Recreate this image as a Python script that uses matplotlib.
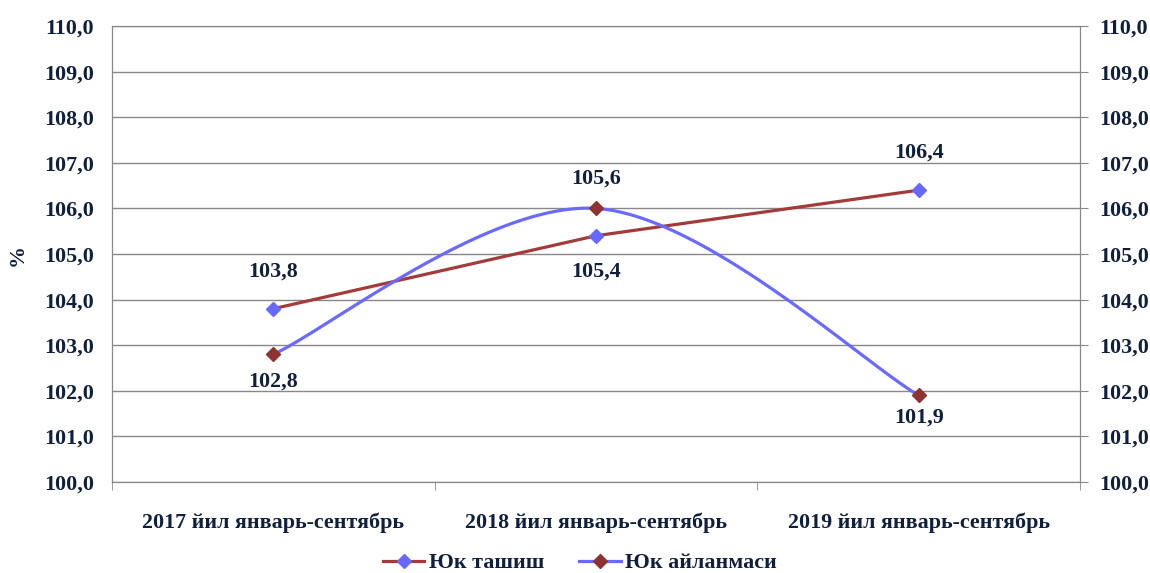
import matplotlib.pyplot as plt
import numpy as np
from matplotlib.lines import Line2D

categories = ["2017 йил январь-сентябрь", "2018 йил январь-сентябрь", "2019 йил январь-сентябрь"]
tashish = [103.8, 105.4, 106.4]
aylanma = [102.8, 106.0, 101.9]
tashish_labels = ["103,8", "105,4", "106,4"]
aylanma_labels = ["102,8", "105,6", "101,9"]
series_names = ["Юк ташиш", "Юк айланмаси"]
yticks = [100, 101, 102, 103, 104, 105, 106, 107, 108, 109, 110]

txt = "#10203c"
red_line = "#a33b3b"
purple = "#6868ff"
blue_line = "#6a6aff"
dark_red = "#8e3232"
grey = "#888888"

plt.rcParams['font.family'] = ['Liberation Serif', 'DejaVu Serif']
plt.rcParams['font.weight'] = 'bold'
fs = 15.8


def smooth(xs, ys, n=60):
    # catmull-rom like Excel's smoothed line
    px = [xs[0]] + list(xs) + [xs[-1]]
    py = [ys[0]] + list(ys) + [ys[-1]]
    outx, outy = [], []
    t = np.linspace(0, 1, n)
    for i in range(1, len(px) - 2):
        p0, p1, p2, p3 = np.array([px[i-1], py[i-1]]), np.array([px[i], py[i]]), \
            np.array([px[i+1], py[i+1]]), np.array([px[i+2], py[i+2]])
        c1 = p1 + (p2 - p0) / 6
        c2 = p2 - (p3 - p1) / 6
        for tt in t:
            b = (1-tt)**3*p1 + 3*(1-tt)**2*tt*c1 + 3*(1-tt)*tt**2*c2 + tt**3*p2
            outx.append(b[0]); outy.append(b[1])
    return outx, outy


fig = plt.figure(figsize=(11.5, 5.73), dpi=100)
ax = fig.add_axes([112/1150, 1-482/573, (1080-112)/1150, (482-26)/573])
x = np.arange(len(categories))

ax.plot(x, tashish, color=red_line, lw=2.3, zorder=3)
ax.plot(x, tashish, ls='none', marker='D', ms=7, color=purple, zorder=4)
sx, sy = smooth(x, aylanma)
ax.plot(sx, sy, color=blue_line, lw=2.3, zorder=3)
ax.plot(x, aylanma, ls='none', marker='D', ms=7, color=dark_red, zorder=4)

tashish_off = [-37, 36, -38]
aylanma_off = [27, -30, 22]
for i in range(len(x)):
    ax.annotate(tashish_labels[i], (x[i], tashish[i]), xytext=(0, -tashish_off[i]),
                textcoords='offset pixels', ha='center', va='center', fontsize=fs,
                color=txt, fontweight='bold')
    ax.annotate(aylanma_labels[i], (x[i], aylanma[i]), xytext=(0, -aylanma_off[i]),
                textcoords='offset pixels', ha='center', va='center', fontsize=fs,
                color=txt, fontweight='bold')

ax.set_xlim(-0.5, len(categories) - 0.5)
ax.set_ylim(100, 110)
ax.set_yticks(yticks)
ax.set_yticklabels([f"{v:.1f}".replace('.', ',') for v in yticks])
ax.set_xticks(x)
ax.set_xticklabels(categories)
ax.set_xticks(np.arange(-0.5, len(categories), 1), minor=True)
ax.tick_params(axis='x', which='major', length=0, pad=22, labelsize=fs, labelcolor=txt)
ax.tick_params(axis='x', which='minor', length=6, color=grey, direction='out')
ax.tick_params(axis='y', length=0, pad=13, labelsize=fs, labelcolor=txt)
ax.grid(axis='y', color=grey, lw=1)
for s in ax.spines.values():
    s.set_color(grey)
fig.text(18/1150, 1-255/573, '%', rotation=90, ha='center', va='center',
         fontsize=fs, color=txt, fontweight='bold')

ax2 = ax.twinx()
ax2.set_ylim(100, 110)
ax2.set_yticks(yticks)
ax2.set_yticklabels([f"{v:.1f}".replace('.', ',') for v in yticks])
ax2.tick_params(axis='y', length=6, color=grey, pad=8, labelsize=fs, labelcolor=txt)
for s in ax2.spines.values():
    s.set_color(grey)

handles = [Line2D([], [], color=red_line, lw=2.3, marker='D', ms=7, mfc=purple, mec=purple),
           Line2D([], [], color=blue_line, lw=2.3, marker='D', ms=7, mfc=dark_red, mec=dark_red)]
leg = fig.legend(handles, series_names, loc='center', bbox_to_anchor=(580/1150, 1-563/573),
                 ncol=2, frameon=False, fontsize=fs, handlelength=1.9, columnspacing=1.6,
                 handletextpad=0.2)
for t in leg.get_texts():
    t.set_color(txt)

fig.savefig('out.png', dpi=100)
